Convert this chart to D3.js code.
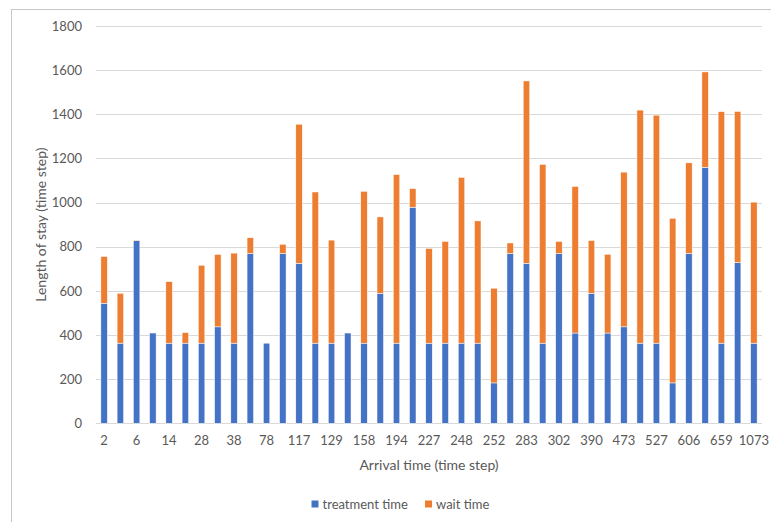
<!DOCTYPE html>
<html>
<head>
<meta charset="utf-8">
<script src="https://cdn.jsdelivr.net/npm/d3@7/dist/d3.min.js"></script>
<style>
  html, body { margin: 0; padding: 0; background: #fff; }
  svg { display: block; font-family: Lato, "Open Sans", sans-serif; }
</style>
</head>
<body>
<svg id="chart" width="771" height="522"></svg>
<script>
// Arrival-time tick labels (shown under every other bar)
const tickLabels = [2, 6, 14, 28, 38, 78, 117, 129, 158, 194, 227, 248, 252, 283, 302, 390, 473, 527, 606, 659, 1073];

// Treatment time per patient (time steps)
const treatmentTime = [544, 363, 828, 409, 363, 363, 363, 437, 363, 769, 363, 769, 725, 363, 363, 409, 363, 589, 363, 979, 363,
                       363, 363, 363, 183, 769, 725, 363, 769, 409, 589, 409, 437, 363, 363, 183, 769, 1160, 363, 728, 363];

// Wait time per patient (time steps)
const waitTime = [212, 226, 2, 0, 279, 48, 353, 328, 408, 72, 0, 42, 630, 685, 467, 0, 688, 346, 764, 84, 429,
                  461, 751, 554, 429, 48, 826, 810, 55, 664, 239, 357, 701, 1056, 1033, 746, 411, 432, 1049, 685, 639];

const seriesNames = ["treatment time", "wait time"];
const yTicks = [0, 200, 400, 600, 800, 1000, 1200, 1400, 1600, 1800];

const colors = { "treatment time": "#4472C4", "wait time": "#ED7D31" };
const textColor = "#595959";

const svg = d3.select("#chart");

// Chart area frame
svg.append("rect")
  .attr("x", 11.5).attr("y", 9.5)
  .attr("width", 800).attr("height", 600)
  .attr("fill", "#fff").attr("stroke", "#c8c8c8").attr("stroke-width", 1);

const plot = { left: 96, right: 762, top: 26, bottom: 423.3 };

const rows = treatmentTime.map((t, i) => ({ idx: i, "treatment time": t, "wait time": waitTime[i] }));

const x = d3.scaleBand()
  .domain(d3.range(rows.length))
  .range([plot.left, plot.right])
  .paddingInner(0.6)
  .paddingOuter(0.3);

const y = d3.scaleLinear().domain([0, 1800]).range([plot.bottom, plot.top]);

// Horizontal gridlines
svg.append("g")
  .selectAll("line")
  .data(yTicks)
  .join("line")
  .attr("x1", plot.left).attr("x2", plot.right)
  .attr("y1", d => Math.round(y(d)) + 0.5).attr("y2", d => Math.round(y(d)) + 0.5)
  .attr("stroke", "#d9d9d9").attr("stroke-width", 1);

// Y axis labels
const yAxis = d3.axisLeft(y).tickValues(yTicks).tickFormat(d3.format("d")).tickSize(0).tickPadding(0);
const gy = svg.append("g").attr("transform", `translate(${plot.left - 14},0)`).call(yAxis);
gy.select(".domain").remove();
gy.selectAll("text").attr("fill", textColor).attr("font-size", 13).attr("font-family", "Lato, sans-serif");

// Stacked bars
const stack = d3.stack().keys(seriesNames);
const layers = stack(rows);

svg.append("g")
  .selectAll("g")
  .data(layers)
  .join("g")
  .attr("fill", d => colors[d.key])
  .selectAll("rect")
  .data(d => d.filter(s => s[1] - s[0] > 0))
  .join("rect")
  .attr("x", d => x(d.data.idx))
  .attr("width", x.bandwidth())
  .attr("y", d => y(d[1]))
  .attr("height", d => y(d[0]) - y(d[1]))
  .attr("stroke", "#fff")
  .attr("stroke-width", 0.5);

// X axis (category labels on every other bar)
const xAxis = d3.axisBottom(x)
  .tickValues(d3.range(0, rows.length, 2))
  .tickFormat(i => tickLabels[i / 2])
  .tickSize(0)
  .tickPadding(12);
const gx = svg.append("g").attr("transform", `translate(0,${plot.bottom})`).call(xAxis);
gx.select(".domain").remove();
gx.selectAll("text").attr("fill", textColor).attr("font-size", 13).attr("font-family", "Lato, sans-serif");

// Axis titles
svg.append("text")
  .attr("x", (plot.left + plot.right) / 2).attr("y", 470)
  .attr("text-anchor", "middle")
  .attr("fill", textColor).attr("font-size", 14)
  .text("Arrival time (time step)");

svg.append("text")
  .attr("transform", `translate(46,${(plot.top + plot.bottom) / 2}) rotate(-90)`)
  .attr("text-anchor", "middle")
  .attr("fill", textColor).attr("font-size", 14)
  .text("Length of stay (time step)");

// Legend
const legendItems = [
  { name: seriesNames[0], sx: 311.5, tx: 322.5 },
  { name: seriesNames[1], sx: 425, tx: 436 }
];
const lg = svg.append("g");
lg.selectAll("rect")
  .data(legendItems)
  .join("rect")
  .attr("x", d => d.sx).attr("y", 500.5)
  .attr("width", 7).attr("height", 7)
  .attr("fill", d => colors[d.name]);
lg.selectAll("text")
  .data(legendItems)
  .join("text")
  .attr("x", d => d.tx).attr("y", 508.5)
  .attr("fill", textColor).attr("font-size", 13)
  .text(d => d.name);
</script>
</body>
</html>
